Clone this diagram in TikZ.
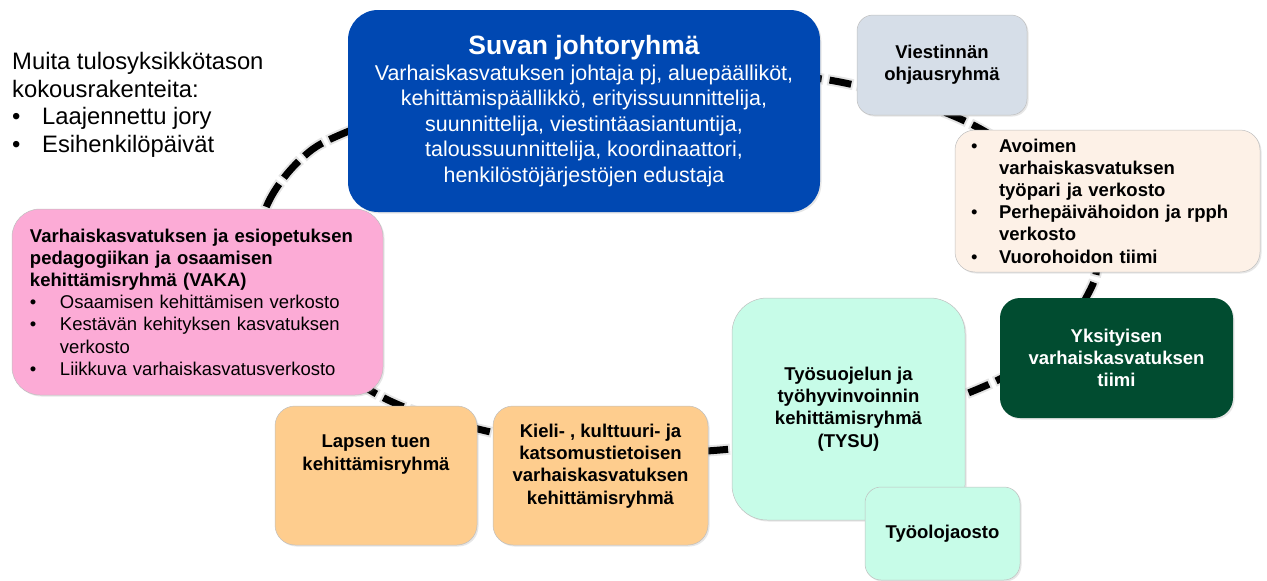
\documentclass[tikz,border=0pt]{standalone}
\usepackage{fontspec}
\setmainfont{Liberation Sans}
\usetikzlibrary{shadows}
\definecolor{johtoblue}{RGB}{0,72,178}
\definecolor{viestgray}{RGB}{214,222,232}
\definecolor{avoincream}{RGB}{253,241,231}
\definecolor{yksgreen}{RGB}{1,76,48}
\definecolor{tysumint}{RGB}{199,252,232}
\definecolor{tuenorange}{RGB}{254,205,142}
\definecolor{vakapink}{RGB}{252,171,214}

\begin{document}
\begin{tikzpicture}[x=1pt,y=-1pt,
    box/.style={draw=black!25, line width=0.5pt, rounded corners=#1, inner sep=0pt, align=center,
      font=\fontsize{18.5}{22.2}\selectfont\bfseries,
      drop shadow={shadow xshift=1.5pt, shadow yshift=-1.5pt, opacity=0.2}},
    box/.default=18pt,
    boxtext/.style={inner sep=0pt, align=center, font=\fontsize{18.5}{22.2}\selectfont\bfseries},
    ring/.style={line width=7pt, dash pattern=on 22pt off 8pt,
      preaction={draw=black!10, line width=11pt, dash pattern=on 26pt off 4pt, dash phase=2pt}}]
  \useasboundingbox (0,0) rectangle (1267,581);
  \draw[ring] plot[smooth cycle, tension=0.6] coordinates {(258,250) (268,203) (300,160) (342,134)
    (450,96) (580,76) (710,72) (840,82) (967,122) (1045,180) (1094,255) (1085,300) (1050,345)
    (985,386) (860,428) (720,450) (600,450) (482,430) (386,399) (310,345) (266,295)};

  \node[anchor=north west, inner sep=0pt, align=left, font=\fontsize{23.8}{27.7}\selectfont] (muita) at (12,52)
    {Muita tulosyksikkötason\\kokousrakenteita:\\\makebox[30pt][l]{•}Laajennettu jory\\\makebox[30pt][l]{•}Esihenkilöpäivät};

  \node[box=28pt, fill=vakapink, minimum width=371pt, minimum height=186pt, text width=335pt, align=left] (vaka) at (197.5,302)
    {Varhaiskasvatuksen ja esiopetuksen\\pedagogiikan ja osaamisen\\kehittämisryhmä (VAKA)\\
     \mdseries\makebox[30pt][l]{•}Osaamisen kehittämisen verkosto\\
     \mdseries\makebox[30pt][l]{•}Kestävän kehityksen kasvatuksen\\
     \mdseries\hspace*{30pt}verkosto\\
     \mdseries\makebox[30pt][l]{•}Liikkuva varhaiskasvatusverkosto};

  \node[box=30pt, draw=none, fill=johtoblue, text=white, minimum width=472pt, minimum height=202pt,
    font=\fontsize{21.4}{25.5}\selectfont] (johto) at (584,111)
    {{\fontsize{26.5}{30}\selectfont\bfseries Suvan johtoryhmä}\\
     Varhaiskasvatuksen johtaja pj, aluepäälliköt,\\
     kehittämispäällikkö, erityissuunnittelija,\\
     suunnittelija, viestintäasiantuntija,\\
     taloussuunnittelija, koordinaattori,\\
     henkilöstöjärjestöjen edustaja};

  \node[box=16pt, fill=viestgray, minimum width=170pt, minimum height=100pt] (viesti) at (942,65)
    {Viestinnän\\ohjausryhmä};

  \node[box=20pt, fill=avoincream, minimum width=305pt, minimum height=142pt, text width=273pt, align=left] (avoin) at (1107.5,201)
    {\makebox[28pt][l]{\mdseries•}Avoimen\\\hspace*{28pt}varhaiskasvatuksen\\\hspace*{28pt}työpari ja verkosto\\
     \makebox[28pt][l]{\mdseries•}Perhepäivähoidon ja rpph\\\hspace*{28pt}verkosto\\
     \makebox[28pt][l]{\mdseries•}Vuorohoidon tiimi};

  \node[box=20pt, draw=none, fill=yksgreen, text=white, minimum width=233pt, minimum height=120pt] (yks) at (1116.5,358)
    {Yksityisen\\varhaiskasvatuksen\\tiimi};

  \node[box=35pt, fill=tysumint, minimum width=233pt, minimum height=222pt] (tysu) at (848.5,409)
    {Työsuojelun ja\\työhyvinvoinnin\\kehittämisryhmä\\(TYSU)};
  \node[box=16pt, fill=tysumint, minimum width=155pt, minimum height=93pt] (tyoolo) at (942.5,533.5)
    {Työolojaosto};

  \node[box=20pt, fill=tuenorange, minimum width=215pt, minimum height=139pt] (kieli) at (600.5,475.5) {};
  \node[boxtext] (kielitxt) at ([yshift=9.5pt]kieli.center)
    {Kieli- , kulttuuri- ja\\katsomustietoisen\\varhaiskasvatuksen\\kehittämisryhmä};
  \node[box=20pt, fill=tuenorange, minimum width=202pt, minimum height=139pt] (lapsen) at (376,475.5) {};
  \node[boxtext] (lapsentxt) at ([yshift=21pt]lapsen.center)
    {Lapsen tuen\\kehittämisryhmä};
\end{tikzpicture}
\end{document}
